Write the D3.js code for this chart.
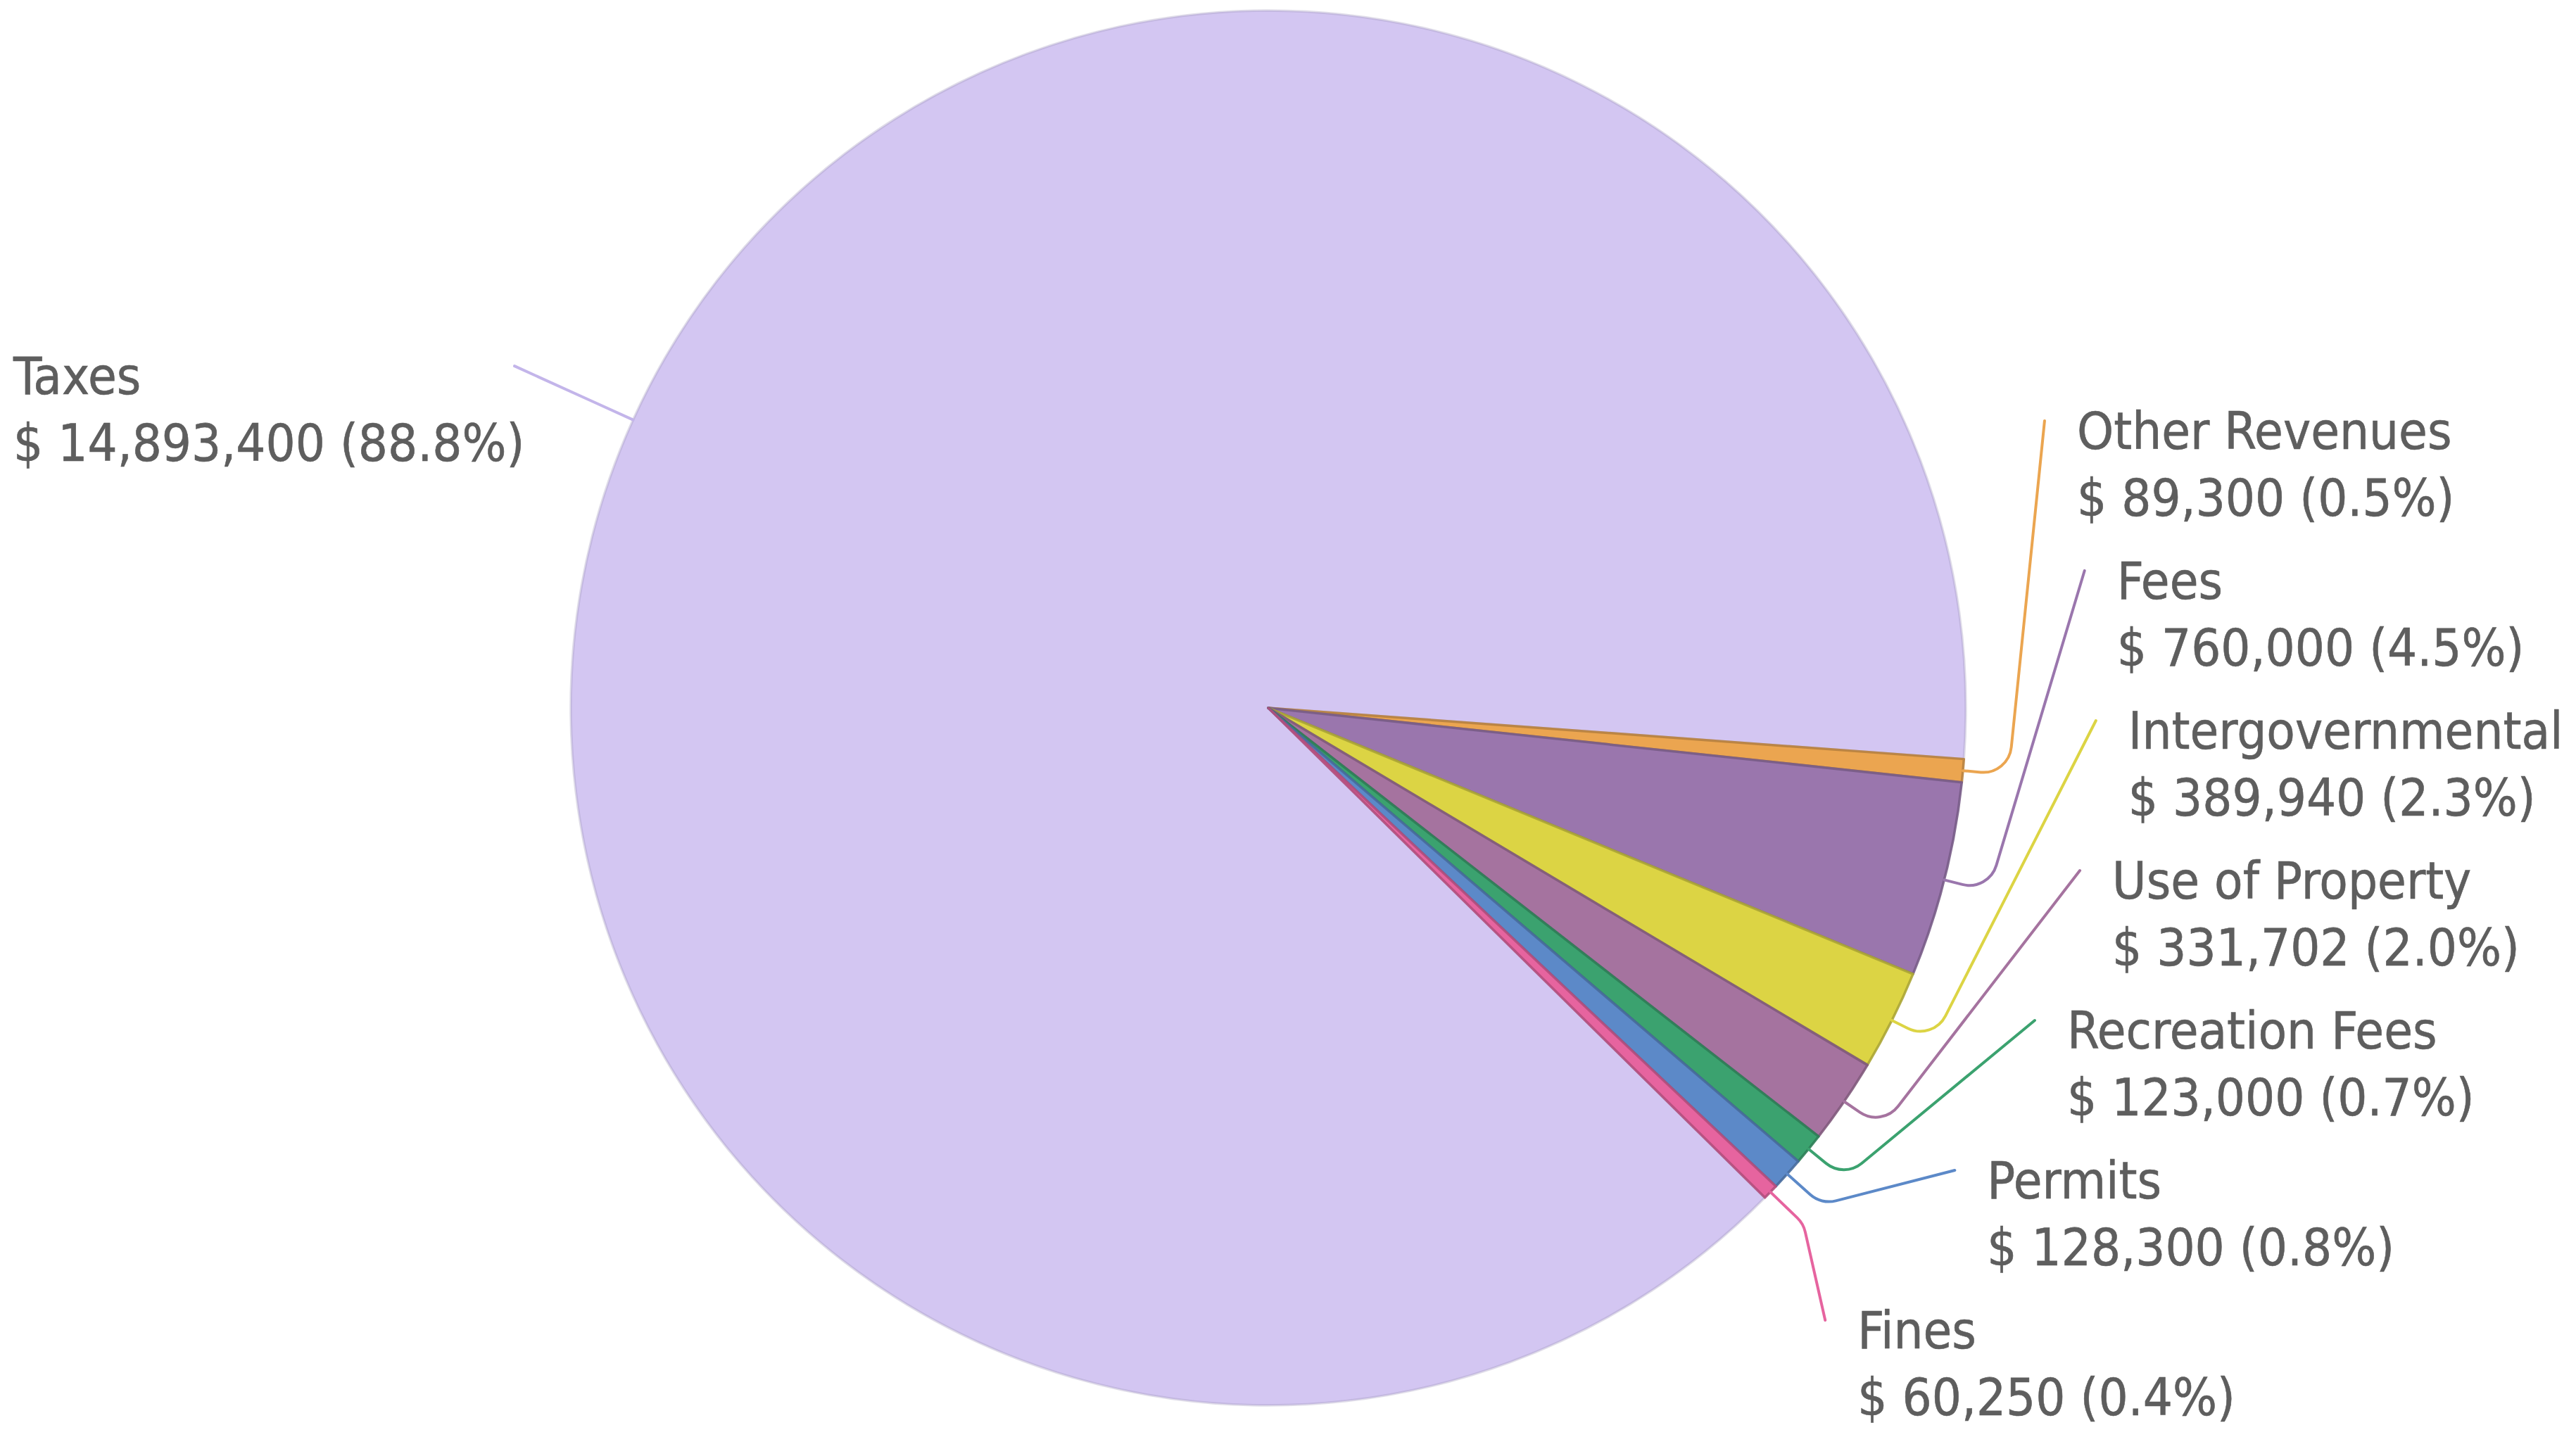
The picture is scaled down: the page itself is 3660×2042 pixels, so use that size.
<!DOCTYPE html>
<html>
<head>
<meta charset="utf-8">
<script src="https://cdn.jsdelivr.net/npm/d3@7"></script>
<style>
  html, body { margin: 0; padding: 0; background: #ffffff; }
  svg { display: block; }
</style>
</head>
<body>
<div id="chart"></div>
<script>
// ---- data ----
const categories = ["Taxes", "Other Revenues", "Fees", "Intergovernmental", "Use of Property", "Recreation Fees", "Permits", "Fines"];
const values = [14893400, 89300, 760000, 389940, 331702, 123000, 128300, 60250];
const colors = ["#d3c6f2", "#eba550", "#9a76ad", "#dcd444", "#a5739f", "#3ba26f", "#5c89c8", "#e6649f"];

// ---- layout ----
const W = 3660, H = 2042;
const cx = 1802, cy = 1006, r = 991;
const R1 = 1056, R2 = 1176;
const startDeg = 134.6;
const labelStep = 213, bottomLimit = 1876, topLimit = 40;
const textGap = 46, fontSize = 73, lineH = 95, firstBase = 40;
const leftMargin = 19;

const total = d3.sum(values);
const data = categories.map((c, i) => ({ name: c, value: values[i], color: colors[i] }));

// font detection
function measure(font) {
  const c = document.createElement("canvas").getContext("2d");
  c.font = font;
  return c.measureText("Other Revenues").width;
}
const wCond = measure(`${fontSize}px "DejaVu Sans Condensed", monospace`);
const wReg = measure(`${fontSize}px "DejaVu Sans", monospace`);
const hasCond = wCond < wReg * 0.95;
const family = hasCond ? '"DejaVu Sans Condensed", "DejaVu Sans", sans-serif' : '"DejaVu Sans", sans-serif';
const sx = hasCond ? 1.01 : 0.91;

const svg = d3.select("#chart").append("svg")
  .attr("width", W).attr("height", H)
  .attr("viewBox", `0 0 ${W} ${H}`);
svg.append("rect").attr("width", W).attr("height", H).attr("fill", "#ffffff");

const toRad = d => d * Math.PI / 180;
const pie = d3.pie().sort(null).value(d => d.value)
  .startAngle(toRad(startDeg)).endAngle(toRad(startDeg) + 2 * Math.PI);
const arcs = pie(data);
const arcGen = d3.arc().innerRadius(0).outerRadius(r);

const g = svg.append("g").attr("transform", `translate(${cx},${cy})`);
g.selectAll("path.slice").data(arcs).join("path")
  .attr("class", "slice")
  .attr("d", arcGen)
  .attr("fill", d => d.data.color)
  .attr("stroke", d => d3.color(d.data.color).darker(0.7))
  .attr("stroke-opacity", d => d.index === 0 ? 0.35 : 0.9)
  .attr("stroke-width", 3.5)
  .attr("stroke-linejoin", "round");

// label layout
const fmtVal = d3.format(",");
const fmtPct = d3.format(".1%");
const labels = arcs.map(a => {
  const mid = (a.startAngle + a.endAngle) / 2;
  const s = Math.sin(mid), c = -Math.cos(mid);
  return {
    arc: a, mid,
    side: s >= 0 ? 1 : -1,
    A: [cx + r * s, cy + r * c],
    B: [cx + R1 * s, cy + R1 * c],
    y: cy + R2 * c
  };
});

[1, -1].forEach(side => {
  const list = labels.filter(l => l.side === side).sort((a, b) => a.y - b.y);
  for (let i = 1; i < list.length; i++) {
    if (list[i].y < list[i - 1].y + labelStep) list[i].y = list[i - 1].y + labelStep;
  }
  if (list.length && list[list.length - 1].y > bottomLimit) list[list.length - 1].y = bottomLimit;
  for (let i = list.length - 2; i >= 0; i--) {
    if (list[i].y > list[i + 1].y - labelStep) list[i].y = list[i + 1].y - labelStep;
  }
  if (list.length && list[0].y < topLimit) list[0].y = topLimit;
  list.forEach(l => {
    const dy = l.y - cy;
    const dx = Math.sqrt(Math.max(0, R2 * R2 - dy * dy));
    l.C = [cx + side * dx, l.y];
  });
});

// connectors
svg.selectAll("path.conn").data(labels).join("path")
  .attr("class", "conn")
  .attr("d", l => {
    const p = d3.path();
    p.moveTo(l.A[0], l.A[1]);
    p.arcTo(l.B[0], l.B[1], l.C[0], l.C[1], 40);
    p.lineTo(l.C[0], l.C[1]);
    return p.toString();
  })
  .attr("fill", "none")
  .attr("stroke", l => l.arc.index === 0 ? "#c3b5ea" : l.arc.data.color)
  .attr("stroke-width", 4)
  .attr("stroke-linecap", "round");

// texts
const tg = svg.selectAll("g.lbl").data(labels).join("g").attr("class", "lbl");
tg.each(function (l) {
  const grp = d3.select(this);
  const t = grp.append("text")
    .attr("font-family", family)
    .attr("font-size", fontSize)
    .attr("fill", "#5e5e5e")
    .attr("stroke", "#5e5e5e")
    .attr("stroke-width", 0.6);
  t.append("tspan").attr("x", 0).attr("y", firstBase).text(l.arc.data.name);
  t.append("tspan").attr("x", 0).attr("y", firstBase + lineH)
    .text(`$ ${fmtVal(l.arc.data.value)} (${fmtPct(l.arc.data.value / total)})`);
  const w = t.node().getBBox().width * sx;
  let x0;
  if (l.side > 0) {
    x0 = l.C[0] + textGap;
  } else {
    x0 = l.C[0] - textGap - w;
    if (x0 < leftMargin) x0 = leftMargin;
  }
  grp.attr("transform", `translate(${x0},${l.C[1]}) scale(${sx},1)`);
});
</script>
</body>
</html>
